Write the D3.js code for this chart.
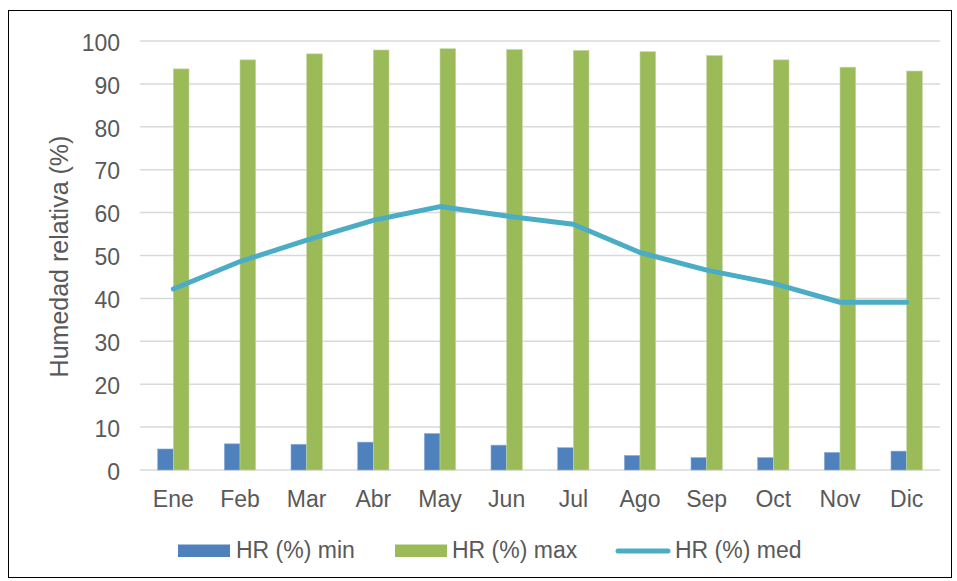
<!DOCTYPE html>
<html><head><meta charset="utf-8">
<script src="https://cdn.jsdelivr.net/npm/d3@7"></script>
<style>body{margin:0;background:#fff}svg{display:block}</style>
</head><body>
<script>
const months = ["Ene","Feb","Mar","Abr","May","Jun","Jul","Ago","Sep","Oct","Nov","Dic"];
const hrMin = [4.9,6.1,6.0,6.5,8.5,5.8,5.2,3.4,2.9,2.9,4.1,4.4];
const hrMax = [93.5,95.6,97.0,97.9,98.2,98.0,97.8,97.5,96.6,95.6,93.9,93.0];
const hrMed = [42.2,48.6,53.6,58.2,61.4,59.2,57.3,50.7,46.6,43.5,39.1,39.1];
const yTicks = [0,10,20,30,40,50,60,70,80,90,100];
const seriesNames = ["HR (%) min","HR (%) max","HR (%) med"];

const W=957,H=581;
const svg=d3.select("body").append("svg").attr("width",W).attr("height",H);
svg.append("rect").attr("x",8.5).attr("y",10.5).attr("width",943).attr("height",567)
  .attr("fill","#fff").attr("stroke","#000").attr("stroke-width",1);

const L=140,R=940,T=41,B=470;
const x=d3.scaleBand().domain(months).range([L,R]);
const y=d3.scaleLinear().domain([0,100]).range([B,T]);
const font="'Liberation Sans', Arial, sans-serif";
const gray="#595959";
const fs=23;

// gridlines
svg.append("g").selectAll("line").data(yTicks).join("line")
  .attr("x1",L).attr("x2",R).attr("y1",d=>y(d)).attr("y2",d=>y(d))
  .attr("stroke","#d9d9d9").attr("stroke-width",1.5);

// y axis
const yAxis=d3.axisLeft(y).tickValues(yTicks).tickSize(0).tickPadding(0);
const gy=svg.append("g").attr("transform",`translate(${120},0)`).call(yAxis);
gy.select(".domain").remove();
gy.selectAll("text").attr("font-family",font).attr("font-size",fs).attr("fill",gray).attr("dy","0.4em");

// x axis
const xAxis=d3.axisBottom(x).tickSize(0).tickPadding(0);
const gx=svg.append("g").attr("transform",`translate(0,${B})`).call(xAxis);
gx.select(".domain").remove();
gx.selectAll("text").attr("font-family",font).attr("font-size",fs).attr("fill",gray).attr("y",37).attr("dy",null);

// bars
const bw=x.bandwidth()*0.235;
const colMin="#4f81bd",colMax="#9bbb59",colMed="#4bacc6";
svg.append("g").selectAll("rect").data(months).join("rect")
  .attr("x",d=>x(d)+x.bandwidth()/2-bw).attr("width",bw)
  .attr("y",(d,i)=>y(hrMin[i])).attr("height",(d,i)=>B-y(hrMin[i]))
  .attr("fill",colMin).attr("stroke","#8fb0d8").attr("stroke-width",0.6);
svg.append("g").selectAll("rect").data(months).join("rect")
  .attr("x",d=>x(d)+x.bandwidth()/2).attr("width",bw)
  .attr("y",(d,i)=>y(hrMax[i])).attr("height",(d,i)=>B-y(hrMax[i]))
  .attr("fill",colMax).attr("stroke","#c3d6a0").attr("stroke-width",0.6);

// line
const line=d3.line().x((d,i)=>x(months[i])+x.bandwidth()/2).y(d=>y(d));
svg.append("path").datum(hrMed).attr("d",line).attr("fill","none")
  .attr("stroke",colMed).attr("stroke-width",5).attr("stroke-linejoin","round").attr("stroke-linecap","round");

// y title
svg.append("text").attr("transform",`translate(68,${(T+B)/2+1}) rotate(-90)`)
  .attr("text-anchor","middle").attr("font-family",font).attr("font-size",25).attr("fill",gray)
  .text("Humedad relativa (%)");

// legend
const lb=557.5;
const lg=svg.append("g");
lg.append("rect").attr("x",178).attr("y",544.5).attr("width",52).attr("height",12.5).attr("fill",colMin);
lg.append("text").attr("x",236).attr("y",lb).attr("font-family",font).attr("font-size",fs).attr("fill",gray).text(seriesNames[0]);
lg.append("rect").attr("x",395).attr("y",544.5).attr("width",52).attr("height",12.5).attr("fill",colMax);
lg.append("text").attr("x",452).attr("y",lb).attr("font-family",font).attr("font-size",fs).attr("fill",gray).text(seriesNames[1]);
lg.append("line").attr("x1",618).attr("x2",668).attr("y1",551).attr("y2",551).attr("stroke",colMed).attr("stroke-width",5).attr("stroke-linecap","round");
lg.append("text").attr("x",675).attr("y",lb).attr("font-family",font).attr("font-size",fs).attr("fill",gray).text(seriesNames[2]);
</script>
</body></html>
